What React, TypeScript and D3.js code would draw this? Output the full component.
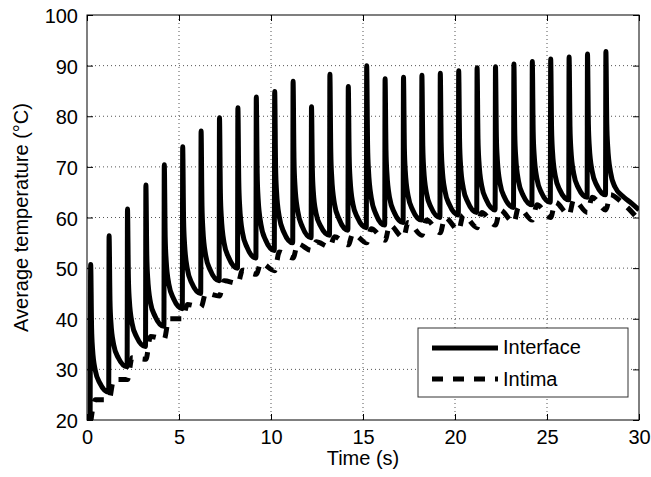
import { useEffect, useRef } from 'react';
import * as d3 from 'd3';

const X_TICKS = [0, 5, 10, 15, 20, 25, 30];
const Y_TICKS = [20, 30, 40, 50, 60, 70, 80, 90, 100];

// heating pulses, one every second
const SPIKE_TIMES = [
  0.2, 1.2, 2.2, 3.2, 4.2, 5.2, 6.2, 7.2, 8.2, 9.2, 10.2, 11.2, 12.2, 13.2, 14.2,
  15.2, 16.2, 17.2, 18.2, 19.2, 20.2, 21.2, 22.2, 23.2, 24.2, 25.2, 26.2, 27.2, 28.2,
];

// Interface: value read at these delays after each pulse
const DECAY_OFFSETS = [0, 0.05, 0.1, 0.25, 0.5, 0.98];
const INTERFACE_CYCLES = [
  [50.7, 38.1, 34.1, 29.8, 27.3, 25.5],
  [56.4, 43.5, 39.3, 34.9, 32.3, 30.5],
  [61.7, 48.1, 43.7, 39.1, 36.4, 34.5],
  [66.4, 52.5, 48.0, 43.2, 40.5, 38.5],
  [70.4, 56.2, 51.7, 46.8, 44.0, 42.0],
  [74.0, 59.5, 54.9, 49.9, 47.0, 45.0],
  [77.1, 62.3, 57.6, 52.5, 49.6, 47.5],
  [79.7, 64.9, 60.1, 55.0, 52.1, 50.0],
  [81.7, 66.9, 62.1, 57.0, 54.1, 52.0],
  [83.8, 68.7, 63.8, 58.7, 55.6, 53.5],
  [84.9, 70.0, 65.2, 60.1, 57.1, 55.0],
  [86.9, 71.5, 66.5, 61.3, 58.2, 56.0],
  [81.9, 69.2, 65.1, 60.8, 58.3, 56.5],
  [88.3, 72.9, 68.0, 62.7, 59.7, 57.5],
  [85.9, 72.0, 67.5, 62.7, 60.0, 58.0],
  [90.0, 74.3, 69.2, 63.9, 60.7, 58.5],
  [87.4, 73.2, 68.7, 63.8, 61.0, 59.0],
  [87.7, 73.6, 69.1, 64.3, 61.5, 59.5],
  [88.1, 74.1, 69.6, 64.8, 62.0, 60.0],
  [88.5, 74.5, 70.0, 65.3, 62.5, 60.5],
  [89.0, 75.0, 70.5, 65.8, 63.0, 61.0],
  [89.6, 75.6, 71.1, 66.3, 63.5, 61.5],
  [89.8, 75.9, 71.5, 66.7, 63.9, 62.0],
  [90.3, 76.4, 72.0, 67.2, 64.4, 62.5],
  [90.8, 76.9, 72.5, 67.7, 64.9, 63.0],
  [91.3, 77.4, 73.0, 68.2, 65.4, 63.5],
  [91.7, 77.9, 73.4, 68.7, 65.9, 64.0],
  [92.3, 78.4, 74.0, 69.2, 66.4, 64.5],
  [92.8, 78.5, 74.0, 69.0, 66.0, 64.0],
];
const INTERFACE_START: [number, number][] = [[0.17, 19]];
const INTERFACE_TAIL: [number, number][] = [[29.6, 62.8], [30, 61.5]];

// Intima: low at each pulse, high 0.25 s later
const INTIMA_HIGH_DELAY = 0.25;
const INTIMA_HIGHS = [
  24.0, 28.0, 32.3, 36.5, 40.0, 42.8, 45.0, 47.5, 49.6, 51.0, 53.2, 54.8, 55.2, 56.2, 56.8,
  57.8, 58.5, 59.0, 59.5, 60.0, 60.5, 61.0, 61.5, 62.0, 62.5, 63.0, 63.5, 64.0, 64.5,
];
const INTIMA_LOWS = [
  24.0, 28.0, 32.0, 36.0, 40.0, 42.3, 44.5, 47.0, 48.8, 49.5, 52.0, 53.5, 54.2, 54.6,
  55.0, 55.5, 56.0, 56.5, 57.0, 57.5, 58.0, 58.5, 59.0, 59.5, 60.0, 60.5, 61.0, 61.5,
];
const INTIMA_START: [number, number][] = [[0.2, 19.5]];
const INTIMA_TAIL: [number, number][] = [[29.0, 63.2], [30, 59.5]];

const FONT = '"Liberation Sans", Arial, Helvetica, sans-serif';

export default function App() {
  const svgRef = useRef<SVGSVGElement>(null);

  useEffect(() => {
    document.body.style.margin = '0';
    const svg = d3.select(svgRef.current);
    svg.selectAll('*').remove();

    const x = d3.scaleLinear().domain([0, 30]).range([87, 639]);
    const y = d3.scaleLinear().domain([20, 100]).range([420, 15]);
    const [x0, x1] = x.range();
    const [y0, y1] = y.range();

    const interfacePts: [number, number][] = [...INTERFACE_START];
    SPIKE_TIMES.forEach((s, k) => {
      DECAY_OFFSETS.forEach((o, j) => interfacePts.push([s + o, INTERFACE_CYCLES[k][j]]));
    });
    interfacePts.push(...INTERFACE_TAIL);

    const intimaPts: [number, number][] = [...INTIMA_START];
    SPIKE_TIMES.forEach((s, k) => {
      if (k > 0) intimaPts.push([s, INTIMA_LOWS[k - 1]]);
      intimaPts.push([s + INTIMA_HIGH_DELAY, INTIMA_HIGHS[k]]);
    });
    intimaPts.push(...INTIMA_TAIL);

    svg.append('defs').append('clipPath').attr('id', 'plot-clip')
      .append('rect')
      .attr('x', x0).attr('y', y1)
      .attr('width', x1 - x0).attr('height', y0 - y1);

    svg.append('rect')
      .attr('x', x0).attr('y', y1)
      .attr('width', x1 - x0).attr('height', y0 - y1)
      .attr('fill', '#fff');

    // dotted grid
    const grid = svg.append('g')
      .attr('stroke', '#555')
      .attr('stroke-width', 1)
      .attr('stroke-dasharray', '1,3');
    X_TICKS.slice(1, -1).forEach(t => {
      grid.append('line')
        .attr('x1', x(t)).attr('x2', x(t))
        .attr('y1', y1).attr('y2', y0);
    });
    Y_TICKS.slice(1, -1).forEach(t => {
      grid.append('line')
        .attr('x1', x0).attr('x2', x1)
        .attr('y1', y(t)).attr('y2', y(t));
    });

    const line = d3.line<[number, number]>()
      .x(d => x(d[0]))
      .y(d => y(d[1]))
      .curve(d3.curveMonotoneX);

    const curves = svg.append('g').attr('clip-path', 'url(#plot-clip)');
    curves.append('path')
      .attr('d', line(intimaPts))
      .attr('fill', 'none')
      .attr('stroke', '#000')
      .attr('stroke-width', 5)
      .attr('stroke-dasharray', '11,10');
    curves.append('path')
      .attr('d', line(interfacePts))
      .attr('fill', 'none')
      .attr('stroke', '#000')
      .attr('stroke-width', 5)
      .attr('stroke-linejoin', 'round');

    // frame and inward ticks
    svg.append('rect')
      .attr('x', x0).attr('y', y1)
      .attr('width', x1 - x0).attr('height', y0 - y1)
      .attr('fill', 'none')
      .attr('stroke', '#000')
      .attr('stroke-width', 1);

    const styleAxis = (g: d3.Selection<SVGGElement, unknown, null, undefined>) => {
      g.select('path.domain').remove();
      g.selectAll('.tick line').attr('stroke', '#000');
      g.selectAll('.tick text')
        .attr('fill', '#000')
        .style('font-family', FONT)
        .style('font-size', '20px');
    };

    svg.append('g')
      .attr('transform', `translate(0,${y0})`)
      .call(d3.axisBottom(x).tickValues(X_TICKS).tickSize(-6).tickPadding(10).tickFormat(d3.format('d')))
      .call(styleAxis);
    svg.append('g')
      .attr('transform', `translate(0,${y1})`)
      .call(d3.axisTop(x).tickValues(X_TICKS).tickSize(-6).tickFormat(() => ''))
      .call(styleAxis);
    svg.append('g')
      .attr('transform', `translate(${x0},0)`)
      .call(d3.axisLeft(y).tickValues(Y_TICKS).tickSize(-6).tickPadding(9).tickFormat(d3.format('d')))
      .call(styleAxis)
      .call(g => g.selectAll('.tick text').attr('dy', '0.38em'));
    svg.append('g')
      .attr('transform', `translate(${x1},0)`)
      .call(d3.axisRight(y).tickValues(Y_TICKS).tickSize(-6).tickFormat(() => ''))
      .call(styleAxis);

    // axis labels
    svg.append('text')
      .attr('x', (x0 + x1) / 2)
      .attr('y', 465)
      .attr('text-anchor', 'middle')
      .style('font-family', FONT)
      .style('font-size', '20px')
      .text('Time (s)');
    svg.append('text')
      .attr('transform', `translate(28,${(y0 + y1) / 2}) rotate(-90)`)
      .attr('text-anchor', 'middle')
      .style('font-family', FONT)
      .style('font-size', '20px')
      .text('Average temperature (°C)');

    // legend
    const legend = svg.append('g');
    legend.append('rect')
      .attr('x', 418).attr('y', 328)
      .attr('width', 210).attr('height', 69)
      .attr('fill', '#fff')
      .attr('stroke', '#333')
      .attr('stroke-width', 1);
    const items = [
      { label: 'Interface', dash: null as string | null, ly: 348, ty: 354 },
      { label: 'Intima', dash: '11,10', ly: 379, ty: 386 },
    ];
    items.forEach(it => {
      legend.append('line')
        .attr('x1', 432).attr('x2', 498)
        .attr('y1', it.ly).attr('y2', it.ly)
        .attr('stroke', '#000')
        .attr('stroke-width', 5)
        .attr('stroke-dasharray', it.dash);
      legend.append('text')
        .attr('x', 503).attr('y', it.ty)
        .style('font-family', FONT)
        .style('font-size', '20px')
        .text(it.label);
    });
  }, []);

  return <svg ref={svgRef} width={651} height={477} style={{ display: 'block' }} />;
}
